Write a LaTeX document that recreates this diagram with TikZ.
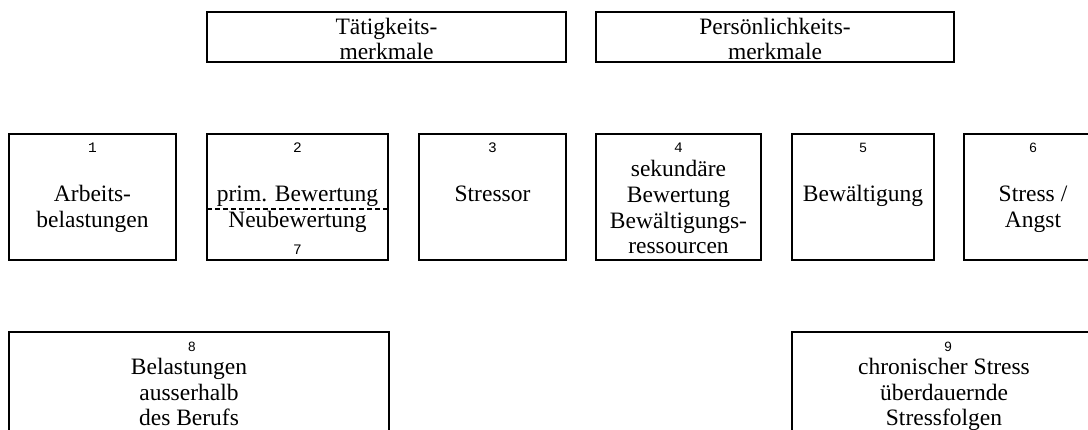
\documentclass[tikz,border=0pt]{standalone}
\usepackage{fontspec}
\setmainfont{Liberation Serif}
\newfontfamily\numfont{Liberation Mono}
\newfontfamily\numsans{Liberation Sans}
\begin{document}
\begin{tikzpicture}[x=1pt,y=-1pt,
  box/.style={draw=black,line width=2pt,inner sep=0pt},
  txt/.style={anchor=base,inner sep=0pt,font=\fontsize{23.5}{26}\selectfont},
  num/.style={inner sep=0pt,font=\numfont\fontsize{14.5}{14.5}\selectfont},
  nums/.style={inner sep=0pt,font=\numsans\fontsize{13.5}{13.5}\selectfont}]
\useasboundingbox (0,0) rectangle (1088,430);
\clip (0,0) rectangle (1088,430);
% top boxes
\draw[box] (207,12) rectangle (566,62);
\draw[box] (596,12) rectangle (954,62);
\node[txt] (t1a) at (386.5,35) {Tätigkeits-};
\node[txt] (t1b) at (386.5,60) {merkmale};
\node[txt] (t2a) at (775,35) {Persönlichkeits-};
\node[txt] (t2b) at (775,60) {merkmale};
% middle row
\draw[box] (9,134) rectangle (176,260);
\draw[box] (207,134) rectangle (388,260);
\draw[box] (419,134) rectangle (566,260);
\draw[box] (596,134) rectangle (761,260);
\draw[box] (792,134) rectangle (934,260);
\draw[box] (964,134) rectangle (1106,260);
\draw[line width=1.5pt,dash pattern=on 5pt off 3pt] (207,209) -- (388,209);
% numbers
\node[num] (n1) at (92.5,148) {1};
\node[num] (n2) at (297.5,148) {2};
\node[num] (n7) at (297.5,250) {7};
\node[num] (n3) at (492.5,148) {3};
\node[num] (n4) at (678.5,148) {4};
\node[nums] (n5) at (863,148) {5};
\node[nums] (n6) at (1033,148) {6};
% texts
\node[txt] (a1) at (92.5,202) {Arbeits-};
\node[txt] (a2) at (92.5,228) {belastungen};
\node[txt] (b1) at (297.5,202) {prim. Bewertung};
\node[txt] (b2) at (297.5,228) {Neubewertung};
\node[txt] (c1) at (492.5,202) {Stressor};
\node[txt] (d1) at (678.5,177) {sekundäre};
\node[txt] (d2) at (678.5,203) {Bewertung};
\node[txt] (d3) at (678.5,229) {Bewältigungs-};
\node[txt] (d4) at (678.5,254) {ressourcen};
\node[txt] (e1) at (863,202) {Bewältigung};
\node[txt] (f1) at (1033,202) {Stress /};
\node[txt] (f2) at (1033,228) {Angst};
% bottom boxes
\draw[box] (9,332) rectangle (389,460);
\draw[box] (792,332) rectangle (1098,460);
\node[nums] (n8) at (192,347) {8};
\node[nums] (n9) at (948,347) {9};
\node[txt] (g1) at (189,375) {Belastungen};
\node[txt] (g2) at (189,401) {ausserhalb};
\node[txt] (g3) at (189,426) {des Berufs};
\node[txt] (h1) at (944,375) {chronischer Stress};
\node[txt] (h2) at (944,401) {überdauernde};
\node[txt] (h3) at (944,426) {Stressfolgen};
\end{tikzpicture}
\end{document}
